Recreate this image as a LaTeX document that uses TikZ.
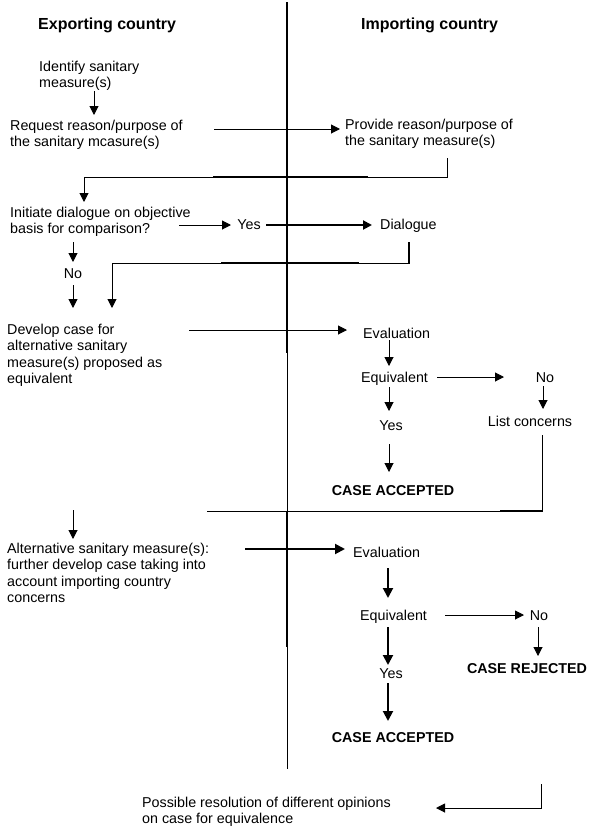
\documentclass[tikz,border=0pt]{standalone}
\usepackage{fontspec}
\setmainfont{Liberation Sans}
\usetikzlibrary{arrows.meta}
\begin{document}
\begin{tikzpicture}[x=1pt,y=-1pt,
  txt/.style={font=\fontsize{14.3}{16.6}\selectfont, inner sep=0pt, align=left},
  bld/.style={font=\fontsize{14.3}{16.6}\selectfont\bfseries, inner sep=0pt},
  hd/.style={font=\fontsize{16}{18}\selectfont\bfseries, inner sep=0pt},
  thinln/.style={line width=1pt},
  thickln/.style={line width=2pt},
  arr/.style={-{Triangle[length=9pt,width=9pt]}},
  arrthk/.style={line width=2pt,-{Triangle[length=10pt,width=10pt]}}]
\useasboundingbox (0,0) rectangle (599,833);
\fill[white] (0,0) rectangle (599,833);

% headings
\node[hd,anchor=base west] (exp) at (38,29.5) {Exporting country};
\node[hd,anchor=base west] (imp) at (361,29.5) {Importing country};

% texts (first-line centre = top + 6.7)
\node[txt,anchor=north west] (identify) at (39,59.3) {\strut Identify sanitary\\measure(s)};
\node[txt,anchor=north west] (request) at (10,118.3) {\strut Request reason/purpose of\\the sanitary mcasure(s)};
\node[txt,anchor=north west] (provide) at (345,117.3) {\strut Provide reason/purpose of\\the sanitary measure(s)};
\node[txt,anchor=north west] (initiate) at (10,205.3) {\strut Initiate dialogue on objective\\basis for comparison?};
\node[txt,anchor=base] (yes1) at (249,229) {Yes};
\node[txt,anchor=base west] (dialogue) at (380,229) {Dialogue};
\node[txt,anchor=base] (no1) at (73,278) {No};
\node[txt,anchor=north west] (develop) at (7,322.3) {\strut Develop case for\\alternative sanitary\\measure(s) proposed as\\equivalent};
\node[txt,anchor=base west] (eval1) at (363,338) {Evaluation};
\node[txt,anchor=base west] (equiv1) at (361,382) {Equivalent};
\node[txt,anchor=base] (no2) at (545,382) {No};
\node[txt,anchor=base] (listc) at (530,426) {List concerns};
\node[txt,anchor=base] (yes2) at (391,430) {Yes};
\node[bld,anchor=base] (acc1) at (393,495) {CASE ACCEPTED};
\node[txt,anchor=north west] (alt) at (7,541.3) {\strut Alternative sanitary measure(s):\\further develop case taking into\\account importing country\\concerns};
\node[txt,anchor=base west] (eval2) at (353,557) {Evaluation};
\node[txt,anchor=base west] (equiv2) at (360,620) {Equivalent};
\node[txt,anchor=base] (no3) at (539,620) {No};
\node[bld,anchor=base] (rej) at (527,673) {CASE REJECTED};
\node[txt,anchor=base] (yes3) at (391,678) {Yes};
\node[bld,anchor=base] (acc2) at (393,742) {CASE ACCEPTED};
\node[txt,anchor=north west] (poss) at (142,795.3) {\strut Possible resolution of different opinions\\on case for equivalence};

% dividing line
\coordinate (d0) at (287,2);
\coordinate (d1) at (287,353);
\coordinate (d2) at (287,511);
\coordinate (d3) at (287,647);
\coordinate (d4) at (287,769);
\draw[thickln] (d0) -- (d1);
\draw[thinln] (d1) -- (d2);
\draw[thickln] (d2) -- (d3);
\draw[thinln] (d3) -- (d4);

% connector end points
\coordinate (c1a) at (94,91);   \coordinate (c1b) at (94,115);
\coordinate (c2a) at (214,129); \coordinate (c2b) at (340,129);
\coordinate (r1a) at (447,158); \coordinate (r1b) at (447,177);
\coordinate (r1c) at (84,177);  \coordinate (r1d) at (84,202);
\coordinate (c3a) at (179,225); \coordinate (c3b) at (231,225);
\coordinate (c4a) at (266,225); \coordinate (c4b) at (372,225);
\coordinate (r2a) at (409,242); \coordinate (r2b) at (409,263);
\coordinate (r2c) at (112,263); \coordinate (r2d) at (112,308);
\coordinate (n1a) at (73,242);  \coordinate (n1b) at (73,262);
\coordinate (n2a) at (73,285);  \coordinate (n2b) at (73,308);
\coordinate (c7a) at (189,330); \coordinate (c7b) at (347,330);
\coordinate (c8a) at (389,340); \coordinate (c8b) at (389,366);
\coordinate (c9a) at (437,377); \coordinate (c9b) at (504,377);
\coordinate (c10a) at (543,386); \coordinate (c10b) at (543,409);
\coordinate (c11a) at (389,387); \coordinate (c11b) at (389,411);
\coordinate (c12a) at (389,444); \coordinate (c12b) at (389,472);
\coordinate (r3a) at (542,435); \coordinate (r3b) at (542,511); \coordinate (r3c) at (207,511);
\coordinate (c13a) at (73,510); \coordinate (c13b) at (73,539);
\coordinate (c14a) at (245,549); \coordinate (c14b) at (345,549);
\coordinate (c15a) at (388,568); \coordinate (c15b) at (388,598);
\coordinate (c16a) at (445,615); \coordinate (c16b) at (524,615);
\coordinate (c17a) at (538,627); \coordinate (c17b) at (538,656);
\coordinate (c18a) at (388,627); \coordinate (c18b) at (388,665);
\coordinate (c19a) at (388,683); \coordinate (c19b) at (388,721);
\coordinate (r4a) at (541,784); \coordinate (r4b) at (541,808); \coordinate (r4c) at (436,808);

% connectors
\draw[thinln,arr] (c1a) -- (c1b);
\draw[thinln,arr] (c2a) -- (c2b);
\draw[thinln,arr] (r1a) -- (r1b) -- (r1c) -- (r1d);
\draw[thickln] (213,177) -- (368,177);
\draw[thinln,arr] (c3a) -- (c3b);
\draw[thickln,arr] (c4a) -- (c4b);
\draw[thinln,arr] (r2a) -- (r2b) -- (r2c) -- (r2d);
\draw[thickln] (221,263) -- (359,263);
\draw[thickln] (r2a) -- (r2b);
\draw[thinln,arr] (n1a) -- (n1b);
\draw[thinln,arr] (n2a) -- (n2b);
\draw[thinln,arr] (c7a) -- (c7b);
\draw[thinln,arr] (c8a) -- (c8b);
\draw[thinln,arr] (c9a) -- (c9b);
\draw[thinln,arr] (c10a) -- (c10b);
\draw[thinln,arr] (c11a) -- (c11b);
\draw[thinln,arr] (c12a) -- (c12b);
\draw[thinln] (r3a) -- (r3b) -- (r3c);
\draw[thickln] (500,511) -- (r3b);
\draw[thinln,arr] (c13a) -- (c13b);
\draw[arrthk] (c14a) -- (c14b);
\draw[arrthk] (c15a) -- (c15b);
\draw[thinln,arr] (c16a) -- (c16b);
\draw[thinln,arr] (c17a) -- (c17b);
\draw[arrthk] (c18a) -- (c18b);
\draw[arrthk] (c19a) -- (c19b);
\draw[thinln,arr] (r4a) -- (r4b) -- (r4c);
\end{tikzpicture}
\end{document}
